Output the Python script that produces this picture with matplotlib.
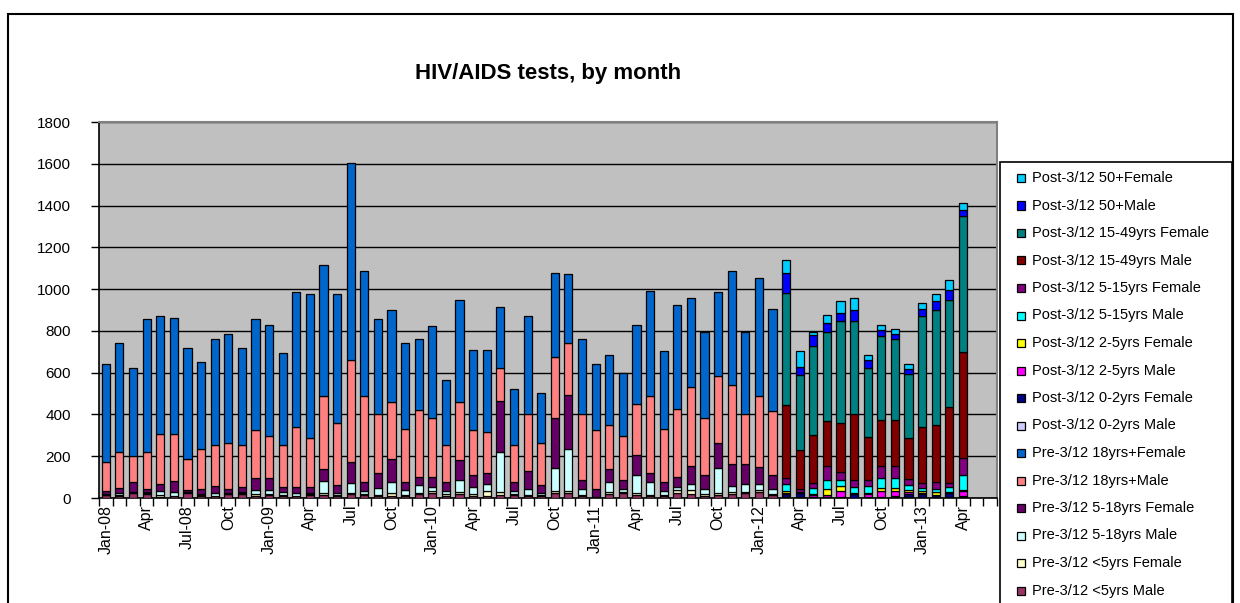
import numpy as np
import matplotlib
matplotlib.use("Agg")
import matplotlib.pyplot as plt
from matplotlib.patches import Rectangle

plt.rcParams["font.family"] = ["Liberation Sans", "DejaVu Sans"]

# 64 monthly bars (Jan-08 .. Apr-13) on an axis of 66 month slots (to Jun-13)
N_MONTHS = 64
N_SLOTS = 66
TICK_LABELS = ["Jan-08", "Apr", "Jul-08", "Oct", "Jan-09", "Apr", "Jul", "Oct",
               "Jan-10", "Apr", "Jul", "Oct", "Jan-11", "Apr", "Jul", "Oct",
               "Jan-12", "Apr", "Jul", "Oct", "Jan-13", "Apr"]

# Pre-3/12 series: Jan-08 .. Feb-12 (50 months)
pre_lt5_m = [12, 8, 25, 20, 5, 8, 25, 10, 8, 18, 20, 10, 15, 8, 8, 15, 12, 8, 17, 15,
             8, 10, 8, 18, 25, 10, 20, 10, 10, 12, 12, 8, 8, 22, 23, 8, 3, 18, 22, 14,
             10, 8, 25, 18, 10, 15, 18, 25, 28, 12]
pre_lt5_f = [3, 4, 3, 3, 8, 3, 2, 3, 3, 2, 3, 10, 5, 4, 3, 3, 12, 4, 5, 5,
             8, 12, 8, 5, 8, 10, 10, 10, 25, 15, 5, 5, 5, 10, 12, 5, 0, 12, 8, 10,
             5, 8, 12, 20, 8, 10, 12, 5, 12, 5]
pre_5_18_m = [5, 12, 3, 5, 20, 20, 2, 8, 14, 3, 5, 20, 20, 15, 12, 8, 58, 12, 48, 15,
              30, 55, 22, 37, 20, 12, 55, 32, 33, 195, 15, 30, 12, 110, 200, 30, 0, 45, 15, 85,
              60, 18, 17, 30, 24, 117, 28, 35, 25, 25]
pre_5_18_f = [15, 26, 47, 15, 32, 49, 9, 20, 32, 20, 24, 54, 54, 27, 30, 27, 55, 38, 104, 43,
              75, 110, 40, 42, 49, 46, 95, 60, 53, 241, 46, 86, 37, 243, 260, 43, 40, 62, 41, 97,
              46, 41, 46, 85, 70, 123, 105, 100, 82, 68]
pre_18_m = [135, 170, 123, 177, 243, 228, 147, 195, 198, 222, 203, 230, 203, 201, 287, 236,
            351, 297, 485, 410, 280, 273, 254, 318, 283, 177, 280, 212, 195, 159, 177, 272,
            203, 290, 249, 315, 281, 211, 211, 246, 367, 257, 325, 378, 273, 318, 380, 236,
            341, 307]
pre_18_f = [470, 524, 423, 635, 563, 555, 535, 414, 508, 520, 465, 531, 533, 439, 645, 688,
            626, 618, 945, 599, 454, 439, 412, 341, 437, 308, 490, 386, 394, 293, 267, 472,
            238, 404, 327, 360, 316, 335, 301, 378, 505, 370, 501, 427, 410, 402, 542, 394,
            565, 490]

# Post-3/12 series: Mar-12 .. Apr-13 (14 months)
post_0_2_m = [3, 3, 3, 2, 2, 2, 3, 2, 3, 3, 3, 3, 3, 3]
post_0_2_f = [16, 22, 3, 2, 2, 17, 3, 3, 8, 15, 15, 9, 20, 8]
post_2_5_m = [3, 2, 10, 12, 28, 2, 12, 30, 24, 12, 4, 2, 2, 22]
post_2_5_f = [13, 2, 3, 27, 24, 2, 8, 14, 14, 8, 13, 14, 2, 5]
post_5_15_m = [32, 2, 28, 43, 28, 30, 32, 48, 48, 24, 13, 15, 24, 70]
post_5_15_f = [27, 10, 23, 69, 39, 33, 28, 58, 56, 27, 22, 35, 19, 82]
post_15_49_m = [350, 187, 230, 212, 236, 315, 206, 220, 222, 200, 270, 270, 366, 509]
post_15_49_f = [539, 359, 426, 428, 487, 445, 330, 401, 385, 306, 531, 551, 514, 651]
post_50_m = [94, 39, 53, 44, 41, 53, 37, 27, 27, 24, 32, 43, 44, 27]
post_50_f = [61, 78, 16, 36, 55, 59, 24, 27, 24, 21, 31, 35, 48, 35]

N_PRE = len(pre_lt5_m)
N_POST = len(post_0_2_m)

# stacking order bottom -> top
SERIES = [
    ("Pre-3/12 <5yrs Male", pre_lt5_m, "#993366", "pre"),
    ("Pre-3/12 <5yrs Female", pre_lt5_f, "#FFFFCC", "pre"),
    ("Pre-3/12 5-18yrs Male", pre_5_18_m, "#CCFFFF", "pre"),
    ("Pre-3/12 5-18yrs Female", pre_5_18_f, "#660066", "pre"),
    ("Pre-3/12 18yrs+Male", pre_18_m, "#FF8080", "pre"),
    ("Pre-3/12 18yrs+Female", pre_18_f, "#0066CC", "pre"),
    ("Post-3/12 0-2yrs Male", post_0_2_m, "#CCCCFF", "post"),
    ("Post-3/12 0-2yrs Female", post_0_2_f, "#000080", "post"),
    ("Post-3/12 2-5yrs Male", post_2_5_m, "#FF00FF", "post"),
    ("Post-3/12 2-5yrs Female", post_2_5_f, "#FFFF00", "post"),
    ("Post-3/12 5-15yrs Male", post_5_15_m, "#00FFFF", "post"),
    ("Post-3/12 5-15yrs Female", post_5_15_f, "#800080", "post"),
    ("Post-3/12 15-49yrs Male", post_15_49_m, "#800000", "post"),
    ("Post-3/12 15-49yrs Female", post_15_49_f, "#008080", "post"),
    ("Post-3/12 50+Male", post_50_m, "#0000FF", "post"),
    ("Post-3/12 50+Female", post_50_f, "#00CCFF", "post"),
]

W, H = 1240, 603
fig = plt.figure(figsize=(W / 100, H / 100), dpi=100)
ax = fig.add_axes([99 / W, 1 - 498 / H, (997 - 99) / W, (498 - 122) / H])
ax.set_facecolor("#C0C0C0")

x = np.arange(N_MONTHS)
bottom = np.zeros(N_MONTHS)
for label, vals, color, era in SERIES:
    if era == "pre":
        full = np.array(vals + [0] * N_POST, dtype=float)
    else:
        full = np.array([0] * N_PRE + vals, dtype=float)
    mask = full > 0
    ax.bar(x[mask], full[mask], 0.6, bottom=bottom[mask], color=color,
           edgecolor="black", linewidth=0.9, zorder=3)
    bottom += full

ax.set_xlim(-0.5, N_SLOTS - 0.5)
ax.set_ylim(0, 1800)
ax.set_yticks(range(0, 1801, 200))
ax.yaxis.grid(True, color="black", linewidth=1.0, zorder=1)
ax.set_axisbelow(True)
ax.tick_params(axis="y", direction="out", length=6, width=1, labelsize=11, pad=14)

ax.set_xticks(np.arange(0, N_MONTHS, 3))
ax.set_xticklabels(TICK_LABELS, rotation=90, fontsize=11.5)
ax.set_xticks(np.arange(-0.5, N_SLOTS, 1), minor=True)
ax.tick_params(axis="x", which="major", length=0, pad=5)
ax.tick_params(axis="x", which="minor", direction="out", length=6, width=1)

for side in ("top", "right"):
    ax.spines[side].set_color("#808080")
    ax.spines[side].set_linewidth(1.5)
ax.spines["left"].set_linewidth(1.2)
ax.spines["bottom"].set_linewidth(1.2)

fig.text(548 / W, 1 - 74 / H, "HIV/AIDS tests, by month", ha="center", va="center",
         fontsize=16, fontweight="bold")

# legend box (runs off the bottom of the picture, as in the original)
fig.patches.append(Rectangle((1000 / W, -0.05), 232 / W, 0.05 + 1 - 162 / H,
                             transform=fig.transFigure, facecolor="white",
                             edgecolor="black", linewidth=1.2))
for i, (label, vals, color, era) in enumerate(SERIES[::-1]):
    yc = 1 - (178 + 27.5 * i) / H
    fig.patches.append(Rectangle((1017 / W, yc - 4 / H), 8 / W, 8 / H,
                                 transform=fig.transFigure, facecolor=color,
                                 edgecolor="black", linewidth=0.9))
    fig.text(1032 / W, yc, label, ha="left", va="center", fontsize=10.5)

# chart area border
fig.patches.append(Rectangle((8 / W, -0.05), (1233 - 8) / W, 1.05 - 14 / H,
                             transform=fig.transFigure, fill=False,
                             edgecolor="black", linewidth=1.5))

fig.savefig("out.png", dpi=100)
